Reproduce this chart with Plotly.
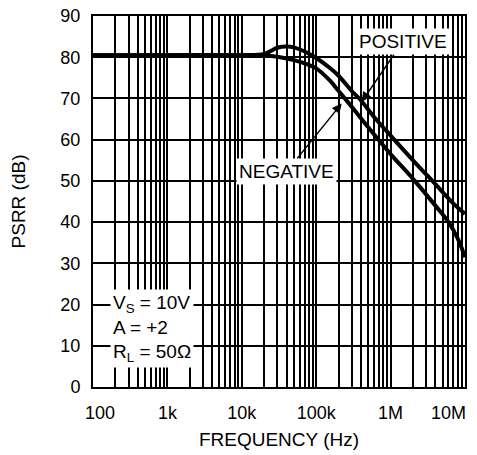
import plotly.graph_objects as go

# 频率 (Hz) 和 PSRR (dB) 数据
freq_pos = [100, 1000, 10000, 20000, 25000, 30000, 40000, 50000, 70000, 100000,
            150000, 200000, 300000, 400000, 600000, 1000000, 2000000, 4000000,
            7000000, 10000000]
psrr_pos = [80.5, 80.5, 80.5, 80.8, 81.6, 82.3, 82.6, 82.4, 81.4, 79.8,
            77.5, 75.5, 71.8, 69.5, 65.5, 61.0, 55.0, 49.2, 44.5, 42.0]

freq_neg = [100, 1000, 10000, 20000, 30000, 50000, 70000, 100000, 150000,
            200000, 300000, 500000, 1000000, 2000000, 4000000, 6000000,
            8000000, 10000000]
psrr_neg = [80.5, 80.5, 80.5, 80.4, 80.1, 79.3, 78.5, 77.3, 74.5,
            71.8, 68.0, 63.0, 56.5, 50.5, 44.0, 40.0, 36.0, 31.5]

x_tickvals = [100, 1000, 10000, 100000, 1000000, 10000000]
x_ticktext = ['', '1k', '10k', '100k', '1M', '']  # 两端的标签用注释画，位置向内偏
minor_vals = [m * d for d in [100, 1000, 10000, 100000, 1000000] for m in range(2, 10)]

font = 'Liberation Sans, Arial, sans-serif'

fig = go.Figure()
fig.add_trace(go.Scatter(x=freq_pos, y=psrr_pos, mode='lines', line_shape='spline',
                         line=dict(color='black', width=4), showlegend=False))
fig.add_trace(go.Scatter(x=freq_neg, y=psrr_neg, mode='lines', line_shape='spline',
                         line=dict(color='black', width=4), showlegend=False))

# 标注
fig.add_annotation(x=5.612, y=69.2, text='POSITIVE', ax=41, ay=-60,
                   showarrow=True, arrowhead=2, arrowsize=1.3, arrowwidth=1.5,
                   arrowcolor='black', bgcolor='white', borderpad=2,
                   font=dict(size=19, color='black'))
fig.add_annotation(x=5.343, y=68.8, text='NEGATIVE', ax=-55, ay=68,
                   showarrow=True, arrowhead=2, arrowsize=1.3, arrowwidth=1.5,
                   arrowcolor='black', bgcolor='white', borderpad=2,
                   font=dict(size=19, color='black'))
fig.add_annotation(xref='paper', yref='paper', x=0.045, y=0.05,
                   xanchor='left', yanchor='bottom', align='left', showarrow=False,
                   text='V<sub>S</sub> = 10V<br>A = +2<br>R<sub>L</sub> = 50Ω',
                   bgcolor='white', borderpad=2, font=dict(size=19, color='black'))

# x轴两端刻度标签
fig.add_annotation(xref='paper', yref='paper', x=0, y=0, text='100',
                   xanchor='center', yanchor='top', xshift=7, yshift=-14,
                   showarrow=False, font=dict(size=18, color='black'))
fig.add_annotation(xref='paper', yref='paper', x=1, y=0, text='10M',
                   xanchor='right', yanchor='top', xshift=3, yshift=-14,
                   showarrow=False, font=dict(size=18, color='black'))

# 页面body有8px边距，所以图形尺寸小一点
fig.update_layout(
    width=469, height=447,
    margin=dict(l=85, r=12, t=8, b=68),
    plot_bgcolor='white', paper_bgcolor='white',
    font=dict(family=font, size=18, color='black'),
)
fig.update_xaxes(type='log', range=[2, 7], tickvals=x_tickvals, ticktext=x_ticktext,
                 showgrid=True, gridcolor='black', gridwidth=1.5,
                 minor=dict(tickvals=minor_vals, showgrid=True, gridcolor='black', gridwidth=1.5),
                 showline=True, mirror=True, linecolor='black', linewidth=2,
                 ticks='', ticklabelstandoff=8, automargin=False,
                 title=dict(text='FREQUENCY (Hz)', standoff=11, font=dict(size=19)))
fig.update_yaxes(range=[0, 90], dtick=10, showgrid=True, gridcolor='black', gridwidth=1.5,
                 showline=True, mirror=True, linecolor='black', linewidth=2,
                 zeroline=False, ticks='', ticklabelstandoff=7, ticklabeloverflow='allow',
                 automargin=False,
                 title=dict(text='PSRR (dB)', standoff=33, font=dict(size=19)))

fig.write_html('out.html')
